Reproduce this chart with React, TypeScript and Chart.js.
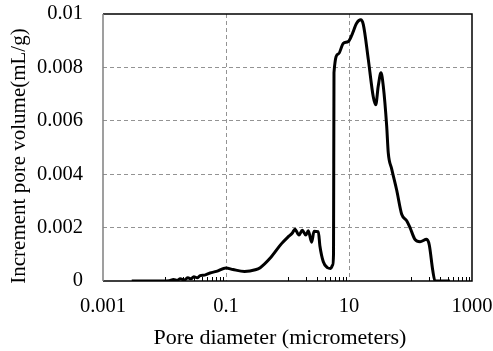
import React, { useEffect, useRef } from "react";
import { Chart, registerables } from "chart.js";

Chart.register(...registerables);

const diameters: number[] = [
  0.00293, 0.0095, 0.012, 0.014, 0.016, 0.018, 0.021, 0.024, 0.027, 0.03, 0.034, 0.038, 0.045,
  0.055, 0.07, 0.1, 0.13, 0.2, 0.3, 0.36, 0.52, 0.8, 1.03, 1.2, 1.32, 1.54, 1.74, 1.98, 2.18,
  2.47, 2.7, 3.17, 3.37, 3.82, 4.44, 5.04, 5.43, 5.6, 5.7, 6.7, 8.08, 9.75, 11.07, 13.3, 15.5,
  17.1, 20.6, 24.8, 27.2, 29.9, 33.1, 36.1, 41, 43.5, 49.4, 59.7, 71.9, 86.7, 98.2, 118, 143,
  183, 202, 230, 250, 439,
];
const volumes: number[] = [
  0, 0, 0.00001, 0.00006, 0.00002, 0.00008, 0.00004, 0.00012, 0.00008, 0.00016, 0.00012, 0.0002,
  0.00022, 0.0003, 0.00036, 0.00049, 0.00043, 0.00036, 0.00042, 0.0005, 0.00085, 0.0014, 0.00166,
  0.0018, 0.00194, 0.00172, 0.0019, 0.00172, 0.00188, 0.00145, 0.00186, 0.00185, 0.0013, 0.00072,
  0.0005, 0.00047, 0.0006, 0.001, 0.0078, 0.0085, 0.0089, 0.00897, 0.0092, 0.00965, 0.00978,
  0.0096, 0.0083, 0.0069, 0.0066, 0.0073, 0.0078, 0.0073, 0.0058, 0.0048, 0.0042, 0.0034, 0.0025,
  0.00226, 0.002, 0.00156, 0.00147, 0.00156, 0.00135, 0.0004, 0, 0,
];

const xTicks: number[] = [0.001, 0.1, 10, 1000];
const xTickLabels: string[] = ["0.001", "0.1", "10", "1000"];
const xGridValues: number[] = [0.1, 10];
const minorDecades: number[] = [0.01, 1, 100];
const yTicks: number[] = [0, 0.002, 0.004, 0.006, 0.008, 0.01];
const yTickLabels: string[] = ["0", "0.002", "0.004", "0.006", "0.008", "0.01"];
const xTitle = "Pore diameter (micrometers)";
const yTitle = "Increment pore volume(mL/g)";

const FONT = "'Liberation Serif', 'Times New Roman', serif";

const framePlugin = {
  id: "frame",
  beforeDatasetsDraw(chart: any) {
    const { ctx, chartArea } = chart;
    const { left, right, top, bottom } = chartArea;
    const xs = chart.scales.x;
    ctx.save();
    ctx.strokeStyle = "#000";
    ctx.lineWidth = 1;
    ctx.beginPath();
    for (const d of minorDecades) {
      for (let m = 1; m <= 9; m++) {
        const px = Math.round(xs.getPixelForValue(d * m)) + 0.5;
        ctx.moveTo(px, bottom);
        ctx.lineTo(px, bottom - 4);
      }
    }
    ctx.stroke();
    ctx.lineWidth = 1.5;
    ctx.strokeStyle = "#000";
    ctx.beginPath();
    ctx.moveTo(left, top);
    ctx.lineTo(right, top);
    ctx.lineTo(right, bottom);
    ctx.lineTo(left, bottom);
    ctx.stroke();
    ctx.strokeStyle = "#7f7f7f";
    ctx.beginPath();
    ctx.moveTo(left, top);
    ctx.lineTo(left, bottom);
    ctx.stroke();
    ctx.restore();
  },
  afterDraw(chart: any) {
    const { ctx } = chart;
    ctx.save();
    ctx.fillStyle = "#000";
    ctx.font = `22px ${FONT}`;
    ctx.textAlign = "center";
    ctx.textBaseline = "alphabetic";
    ctx.fillText(xTitle, 280, 344);
    ctx.translate(19, 156);
    ctx.rotate(-Math.PI / 2);
    ctx.font = `21px ${FONT}`;
    ctx.textBaseline = "middle";
    ctx.fillText(yTitle, 0, 0);
    ctx.restore();
  },
};

export default function App() {
  const ref = useRef<HTMLCanvasElement | null>(null);
  useEffect(() => {
    if (!ref.current) return;
    const chart = new Chart(ref.current, {
      type: "line",
      data: {
        datasets: [
          {
            data: diameters.map((d, i) => ({ x: d, y: volumes[i] })),
            borderColor: "#000",
            borderWidth: 3,
            pointRadius: 0,
            fill: false,
            cubicInterpolationMode: "monotone",
          },
        ],
      },
      options: {
        animation: false,
        responsive: false,
        maintainAspectRatio: false,
        layout: { padding: { top: 14, right: 21, left: 0, bottom: 0 } },
        plugins: { legend: { display: false }, tooltip: { enabled: false } },
        scales: {
          x: {
            type: "logarithmic",
            min: 0.001,
            max: 1000,
            afterBuildTicks: (scale: any) => {
              scale.ticks = xTicks.map((v) => ({ value: v }));
            },
            afterFit: (scale: any) => {
              scale.height = 70;
              scale.paddingLeft = 0;
              scale.paddingRight = 0;
            },
            ticks: {
              autoSkip: false,
              maxRotation: 0,
              padding: 13,
              color: "#000",
              font: { family: FONT, size: 20.5 },
              callback: (_v: any, i: number) => xTickLabels[i],
            },
            grid: {
              drawTicks: false,
              lineWidth: 1,
              color: (c: any) => (c.tick && xGridValues.includes(c.tick.value) ? "#939393" : "rgba(0,0,0,0)"),
            },
            border: { display: false, dash: [4, 3] },
          },
          y: {
            min: 0,
            max: 0.01,
            afterBuildTicks: (scale: any) => {
              scale.ticks = yTicks.map((v) => ({ value: v }));
            },
            afterFit: (scale: any) => {
              scale.width = 103;
              scale.paddingTop = 0;
              scale.paddingBottom = 0;
            },
            ticks: {
              padding: 20,
              color: "#000",
              font: { family: FONT, size: 20.5 },
              callback: (_v: any, i: number) => yTickLabels[i],
            },
            grid: {
              drawTicks: false,
              lineWidth: 1,
              color: (c: any) =>
                c.tick && c.tick.value > 0 && c.tick.value < 0.01 ? "#939393" : "rgba(0,0,0,0)",
            },
            border: { display: false, dash: [4, 3] },
          },
        },
      },
      plugins: [framePlugin],
    } as any);
    return () => chart.destroy();
  }, []);
  return (
    <div style={{ position: "fixed", left: 0, top: 0, width: 493, height: 351, background: "#fff" }}>
      <canvas ref={ref} width={493} height={351} style={{ display: "block" }} />
    </div>
  );
}
